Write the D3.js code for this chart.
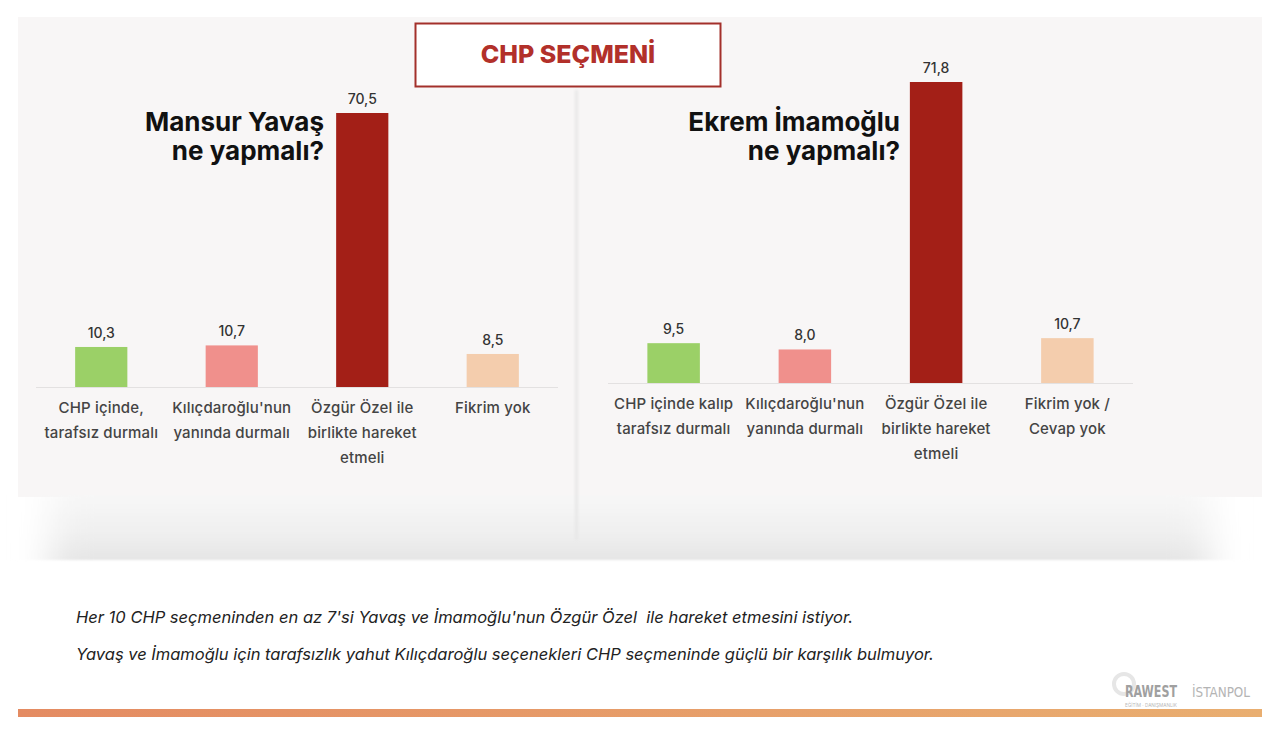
<!DOCTYPE html>
<html>
<head>
<meta charset="utf-8">
<script src="https://cdn.jsdelivr.net/npm/d3@7"></script>
<style>
  body { margin: 0; background: #fff; }
  svg { display: block; font-family: Inter, "Open Sans", sans-serif; }
  .note { white-space: pre; }
</style>
</head>
<body>
<div id="chart"></div>
<script>
// data
const mainTitle = "CHP SEÇMENİ";
const leftTitle = ["Mansur Yavaş", "ne yapmalı?"];
const rightTitle = ["Ekrem İmamoğlu", "ne yapmalı?"];
const leftCategories = ["CHP içinde,|tarafsız durmalı", "Kılıçdaroğlu'nun|yanında durmalı", "Özgür Özel ile|birlikte hareket|etmeli", "Fikrim yok"];
const rightCategories = ["CHP içinde kalıp|tarafsız durmalı", "Kılıçdaroğlu'nun|yanında durmalı", "Özgür Özel ile|birlikte hareket|etmeli", "Fikrim yok /|Cevap yok"];
const leftValues = [10.3, 10.7, 70.5, 8.5];
const rightValues = [9.5, 8.0, 71.8, 10.7];
const barColors = ["#9bd067", "#f0908c", "#a31f17", "#f4cdad"];
const notes = [
  "Her 10 CHP seçmeninden en az 7'si Yavaş ve İmamoğlu'nun Özgür Özel  ile hareket etmesini istiyor.",
  "Yavaş ve İmamoğlu için tarafsızlık yahut Kılıçdaroğlu seçenekleri CHP seçmeninde güçlü bir karşılık bulmuyor."
];

const width = 1280, height = 736;
const fmt = v => d3.format(".1f")(v).replace(".", ",");

const svg = d3.select("#chart").append("svg")
  .attr("width", width)
  .attr("height", height);

const defs = svg.append("defs");
const shade = defs.append("linearGradient").attr("id", "shade").attr("x1", 0).attr("x2", 0).attr("y1", 0).attr("y2", 1);
shade.append("stop").attr("offset", "0%").attr("stop-color", "#f7f7f7");
shade.append("stop").attr("offset", "55%").attr("stop-color", "#f0f0f0");
shade.append("stop").attr("offset", "100%").attr("stop-color", "#e5e5e5");
const blurF = defs.append("filter").attr("id", "blur").attr("x", "-10%").attr("y", "-10%").attr("width", "120%").attr("height", "120%");
blurF.append("feGaussianBlur").attr("stdDeviation", "18 1");
const vblur = defs.append("filter").attr("id", "vblur").attr("x", "-200%").attr("width", "500%");
vblur.append("feGaussianBlur").attr("stdDeviation", 1.5);
const bar = defs.append("linearGradient").attr("id", "footbar");
bar.append("stop").attr("offset", "0%").attr("stop-color", "#e48b62");
bar.append("stop").attr("offset", "100%").attr("stop-color", "#e9ae70");

// panel background with soft bottom shadow
svg.append("rect").attr("x", 18).attr("y", 17).attr("width", 1244).attr("height", 480)
  .attr("fill", "#f8f6f6");
svg.append("rect").attr("x", 50).attr("y", 495).attr("width", 1160).attr("height", 65)
  .attr("fill", "url(#shade)").attr("filter", "url(#blur)");
svg.append("rect").attr("x", 575).attr("y", 90).attr("width", 3).attr("height", 450)
  .attr("fill", "#e6e6e6").attr("filter", "url(#vblur)");

function drawPanel(cats, values, title, opt) {
  const g = svg.append("g");
  const x = d3.scaleBand().domain(cats).range([opt.x0, opt.x1]).paddingInner(0.6).paddingOuter(0.3);
  const y = d3.scaleLinear().domain([0, d3.max(values)]).range([opt.base, opt.top]);

  g.append("line")
    .attr("x1", opt.x0).attr("x2", opt.x1)
    .attr("y1", opt.base + 0.5).attr("y2", opt.base + 0.5)
    .attr("stroke", "#e3e1e1").attr("stroke-width", 1);

  g.selectAll("rect.bar")
    .data(values)
    .join("rect")
    .attr("class", "bar")
    .attr("x", (d, i) => x(cats[i]))
    .attr("width", x.bandwidth())
    .attr("y", d => y(d))
    .attr("height", d => y(0) - y(d))
    .attr("fill", (d, i) => barColors[i]);

  g.selectAll("text.val")
    .data(values)
    .join("text")
    .attr("class", "val")
    .attr("x", (d, i) => x(cats[i]) + x.bandwidth() / 2)
    .attr("y", d => y(d) - 9)
    .attr("text-anchor", "middle")
    .attr("font-size", 14)
    .attr("font-weight", 500)
    .attr("fill", "#333")
    .text(fmt);

  const lab = g.selectAll("text.cat")
    .data(cats)
    .join("text")
    .attr("class", "cat")
    .attr("text-anchor", "middle")
    .attr("font-size", 15)
    .attr("font-weight", 500)
    .attr("letter-spacing", 0.15)
    .attr("fill", "#444");
  lab.each(function(d) {
    const t = d3.select(this);
    d.split("|").forEach((line, k) => {
      t.append("tspan")
        .attr("x", x(d) + x.bandwidth() / 2)
        .attr("y", opt.base + 26 + k * 25)
        .text(line);
    });
  });

  const tt = g.append("text")
    .attr("text-anchor", "end")
    .attr("font-size", 26)
    .attr("font-weight", 700)
    .attr("fill", "#111");
  title.forEach((line, k) => {
    tt.append("tspan").attr("x", opt.titleX).attr("y", opt.titleY + k * 29).text(line);
  });
}

drawPanel(leftCategories, leftValues, leftTitle,
  { x0: 36, x1: 558, base: 387, top: 113, titleX: 324, titleY: 131 });
drawPanel(rightCategories, rightValues, rightTitle,
  { x0: 608, x1: 1133, base: 383, top: 82, titleX: 900, titleY: 131 });

// title box
svg.append("rect").attr("x", 415.5).attr("y", 23.5).attr("width", 305).attr("height", 63)
  .attr("fill", "#ffffff").attr("stroke", "#a3302b").attr("stroke-width", 2);
svg.append("text").attr("x", 568).attr("y", 63)
  .attr("text-anchor", "middle").attr("font-size", 25).attr("font-weight", 800)
  .attr("fill", "#b2302a").text(mainTitle);

// notes
svg.selectAll("text.note")
  .data(notes)
  .join("text")
  .attr("class", "note")
  .attr("x", 76)
  .attr("y", (d, i) => 623 + i * 37)
  .attr("font-size", 16.5)
  .attr("font-style", "italic")
  .attr("fill", "#222")
  .text(d => d);

// logos
svg.append("circle").attr("cx", 1124).attr("cy", 684).attr("r", 10)
  .attr("fill", "none").attr("stroke", "#e6e6e6").attr("stroke-width", 4);
svg.append("text").attr("x", 1125).attr("y", 697).attr("font-size", 15).attr("font-weight", 700)
  .attr("fill", "#a0a0a0").attr("font-family", "'DejaVu Sans Condensed', sans-serif")
  .attr("textLength", 52).attr("lengthAdjust", "spacingAndGlyphs").text("RAWEST");
svg.append("text").attr("x", 1192).attr("y", 697).attr("font-size", 14)
  .attr("fill", "#b4b4b4").attr("font-family", "'DejaVu Sans Condensed', sans-serif")
  .attr("textLength", 58).attr("lengthAdjust", "spacingAndGlyphs").text("İSTANPOL");
svg.append("text").attr("x", 1125).attr("y", 707).attr("font-size", 5)
  .attr("fill", "#b8b8b8").attr("textLength", 52).attr("lengthAdjust", "spacingAndGlyphs")
  .text("EĞİTİM · DANIŞMANLIK");

// footer bar
svg.append("rect").attr("x", 18).attr("y", 709).attr("width", 1244).attr("height", 8)
  .attr("fill", "url(#footbar)");
</script>
</body>
</html>
